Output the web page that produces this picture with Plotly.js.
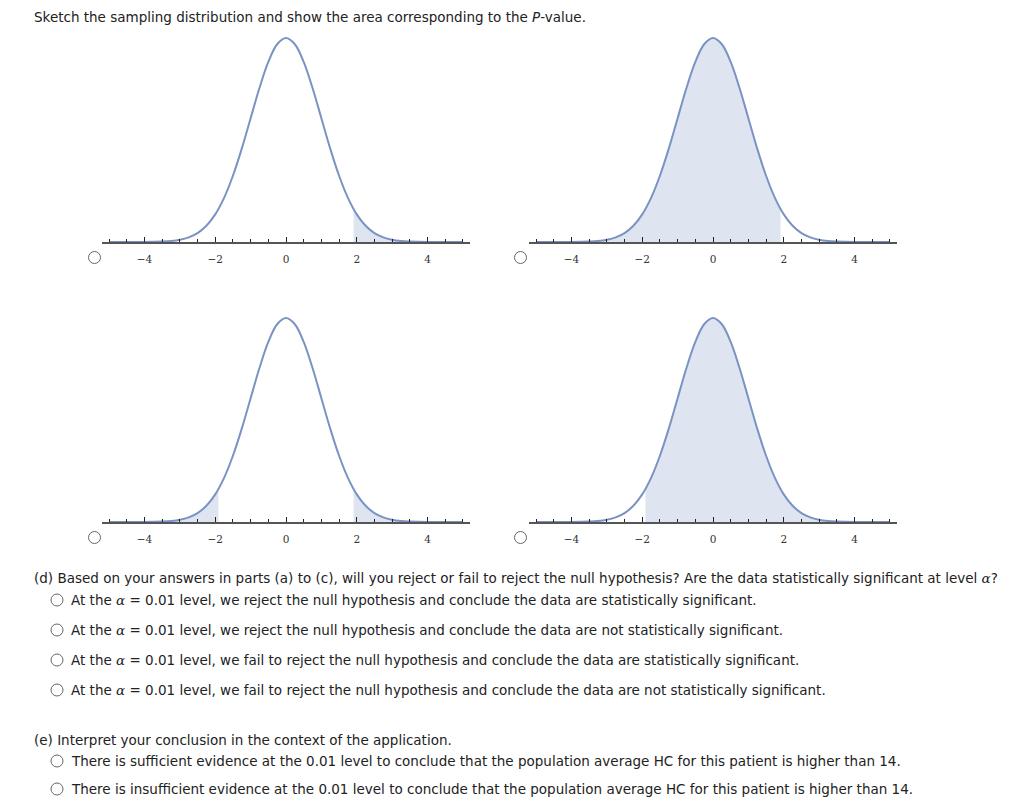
<!DOCTYPE html>
<html>
<head>
<meta charset="utf-8">
<script src="https://cdn.plot.ly/plotly-3.0.1.min.js"></script>
<style>
  html, body { margin: 0; padding: 0; background: #fff; }
  #chart { width: 1024px; height: 812px; }
</style>
</head>
<body>
<div id="chart"></div>
<script>
// ---- data ----
// standard normal density, sampled every 0.25 along z
const zValues = [-5,-4.75,-4.5,-4.25,-4,-3.75,-3.5,-3.25,-3,-2.75,-2.5,-2.25,-2,-1.75,-1.5,-1.25,-1,-0.75,-0.5,-0.25,
                 0,0.25,0.5,0.75,1,1.25,1.5,1.75,2,2.25,2.5,2.75,3,3.25,3.5,3.75,4,4.25,4.5,4.75,5];
const density = [0.0000,0.0000,0.0000,0.0000,0.0001,0.0004,0.0009,0.0020,0.0044,0.0091,0.0175,0.0317,0.0540,0.0863,0.1295,0.1826,0.2420,0.3011,0.3521,0.3867,
                 0.3989,0.3867,0.3521,0.3011,0.2420,0.1826,0.1295,0.0863,0.0540,0.0317,0.0175,0.0091,0.0044,0.0020,0.0009,0.0004,0.0001,0.0000,0.0000,0.0000,0.0000];
const cutZ = 1.91;            // test statistic boundary
const cutDensity = 0.0644;    // curve height at the boundary
const tickLabels = ["−4","−2","0","2","4"];
const tickPositions = [-4,-2,0,2,4];
// shaded intervals for the four panels (top-left, top-right, bottom-left, bottom-right)
const shadeTopLeft = [[cutZ, 5]];
const shadeTopRight = [[-5, cutZ]];
const shadeBottomLeft = [[-5, -cutZ], [cutZ, 5]];
const shadeBottomRight = [[-cutZ, 5]];

const titleText = "Sketch the sampling distribution and show the area corresponding to the <i>P</i>-value.";
const alpha = "<span style=\"font-family:'DejaVu Serif';font-style:italic\">α</span>";
const partD = "(d) Based on your answers in parts (a) to (c), will you reject or fail to reject the null hypothesis? Are the data statistically significant at level " + alpha + "?";
const optionsD = [
  "At the " + alpha + " = 0.01 level, we reject the null hypothesis and conclude the data are statistically significant.",
  "At the " + alpha + " = 0.01 level, we reject the null hypothesis and conclude the data are not statistically significant.",
  "At the " + alpha + " = 0.01 level, we fail to reject the null hypothesis and conclude the data are statistically significant.",
  "At the " + alpha + " = 0.01 level, we fail to reject the null hypothesis and conclude the data are not statistically significant."
];
const partE = "(e) Interpret your conclusion in the context of the application.";
const optionsE = [
  "There is sufficient evidence at the 0.01 level to conclude that the population average HC for this patient is higher than 14.",
  "There is insufficient evidence at the 0.01 level to conclude that the population average HC for this patient is higher than 14."
];

// ---- layout helpers ----
const W = 1024, H = 812;
const px = x => x / W;
const py = y => 1 - y / H;

function densAt(z) {
  if (Math.abs(Math.abs(z) - cutZ) < 1e-9) return cutDensity;
  const i = zValues.indexOf(z);
  return density[i];
}
function segment(a, b) {
  const xs = [a], ys = [densAt(a)];
  zValues.forEach((z, i) => { if (z > a + 1e-9 && z < b - 1e-9) { xs.push(z); ys.push(density[i]); } });
  xs.push(b); ys.push(densAt(b));
  return {xs, ys};
}

const panels = [
  {xa: 'x',  ya: 'y',  shade: shadeTopLeft},
  {xa: 'x2', ya: 'y2', shade: shadeTopRight},
  {xa: 'x3', ya: 'y3', shade: shadeBottomLeft},
  {xa: 'x4', ya: 'y4', shade: shadeBottomRight}
];

const fillColor = 'rgba(205,215,233,0.65)';
const lineColor = '#7b93c3';
const traces = [];
panels.forEach(p => {
  p.shade.forEach(([a, b]) => {
    const s = segment(a, b);
    traces.push({x: s.xs, y: s.ys, xaxis: p.xa, yaxis: p.ya, mode: 'lines', fill: 'tozeroy',
      fillcolor: fillColor, line: {width: 0, shape: 'spline', color: fillColor}, hoverinfo: 'skip', showlegend: false});
  });
  traces.push({x: zValues, y: density, xaxis: p.xa, yaxis: p.ya, mode: 'lines',
    line: {color: lineColor, width: 2, shape: 'spline'}, hoverinfo: 'skip', showlegend: false});
});

const leftDom = [px(102), px(470)];
const rightDom = [px(529), px(897)];
const topDom = [py(242), py(30)];
const botDom = [py(522), py(310)];
const yTop = 0.3989 * 212 / 204;

function xaxisDef(dom, anchor) {
  return {
    domain: dom, anchor: anchor, range: [-5.2, 5.2], fixedrange: true,
    showgrid: false, zeroline: false, showline: true, linecolor: '#555', linewidth: 1.5,
    ticks: 'inside', ticklen: 5, tickwidth: 1, tickcolor: '#222',
    tickvals: tickPositions, ticktext: tickLabels,
    ticklabelstandoff: 7,
    tickfont: {family: 'DejaVu Serif', size: 10.5, color: '#333'},
    minor: {tickmode: 'linear', tick0: 0, dtick: 0.5, ticks: 'inside', ticklen: 3, tickwidth: 1, tickcolor: '#222', showgrid: false}
  };
}
function yaxisDef(dom, anchor) {
  return {domain: dom, anchor: anchor, range: [0, yTop], visible: false, fixedrange: true};
}

const textFont = {family: 'DejaVu Sans', size: 13.5, color: '#222'};
const annotations = [];
function addText(text, x, y) {
  annotations.push({text: text, x: px(x), y: py(y), xref: 'paper', yref: 'paper',
    xanchor: 'left', yanchor: 'middle', showarrow: false, font: textFont, align: 'left'});
}
addText(titleText, 32, 17);
addText(partD, 32, 578);
optionsD.forEach((t, i) => addText(t, 69, 600 + 30 * i));
addText(partE, 32, 740);
optionsE.forEach((t, i) => addText(t, 69, 761 + 28 * i));

const shapes = [];
function circle(cx, cy, r) {
  shapes.push({type: 'circle', xref: 'paper', yref: 'paper',
    x0: px(cx - r), x1: px(cx + r), y0: py(cy + r), y1: py(cy - r),
    line: {color: '#666', width: 1}, fillcolor: 'rgba(0,0,0,0)'});
}
circle(94.5, 257.5, 6);
circle(520.5, 257.5, 6);
circle(94.5, 537.5, 6);
circle(520.5, 537.5, 6);
[600, 630, 660, 690].forEach(y => circle(57, y, 6));
[761, 789].forEach(y => circle(57, y, 6));

const layout = {
  width: W, height: H, margin: {l: 0, r: 0, t: 0, b: 0},
  paper_bgcolor: '#fff', plot_bgcolor: 'rgba(0,0,0,0)',
  showlegend: false,
  xaxis: xaxisDef(leftDom, 'y'), yaxis: yaxisDef(topDom, 'x'),
  xaxis2: xaxisDef(rightDom, 'y2'), yaxis2: yaxisDef(topDom, 'x2'),
  xaxis3: xaxisDef(leftDom, 'y3'), yaxis3: yaxisDef(botDom, 'x3'),
  xaxis4: xaxisDef(rightDom, 'y4'), yaxis4: yaxisDef(botDom, 'x4'),
  annotations: annotations, shapes: shapes
};

Plotly.newPlot('chart', traces, layout, {staticPlot: true, displayModeBar: false});
</script>
</body>
</html>
